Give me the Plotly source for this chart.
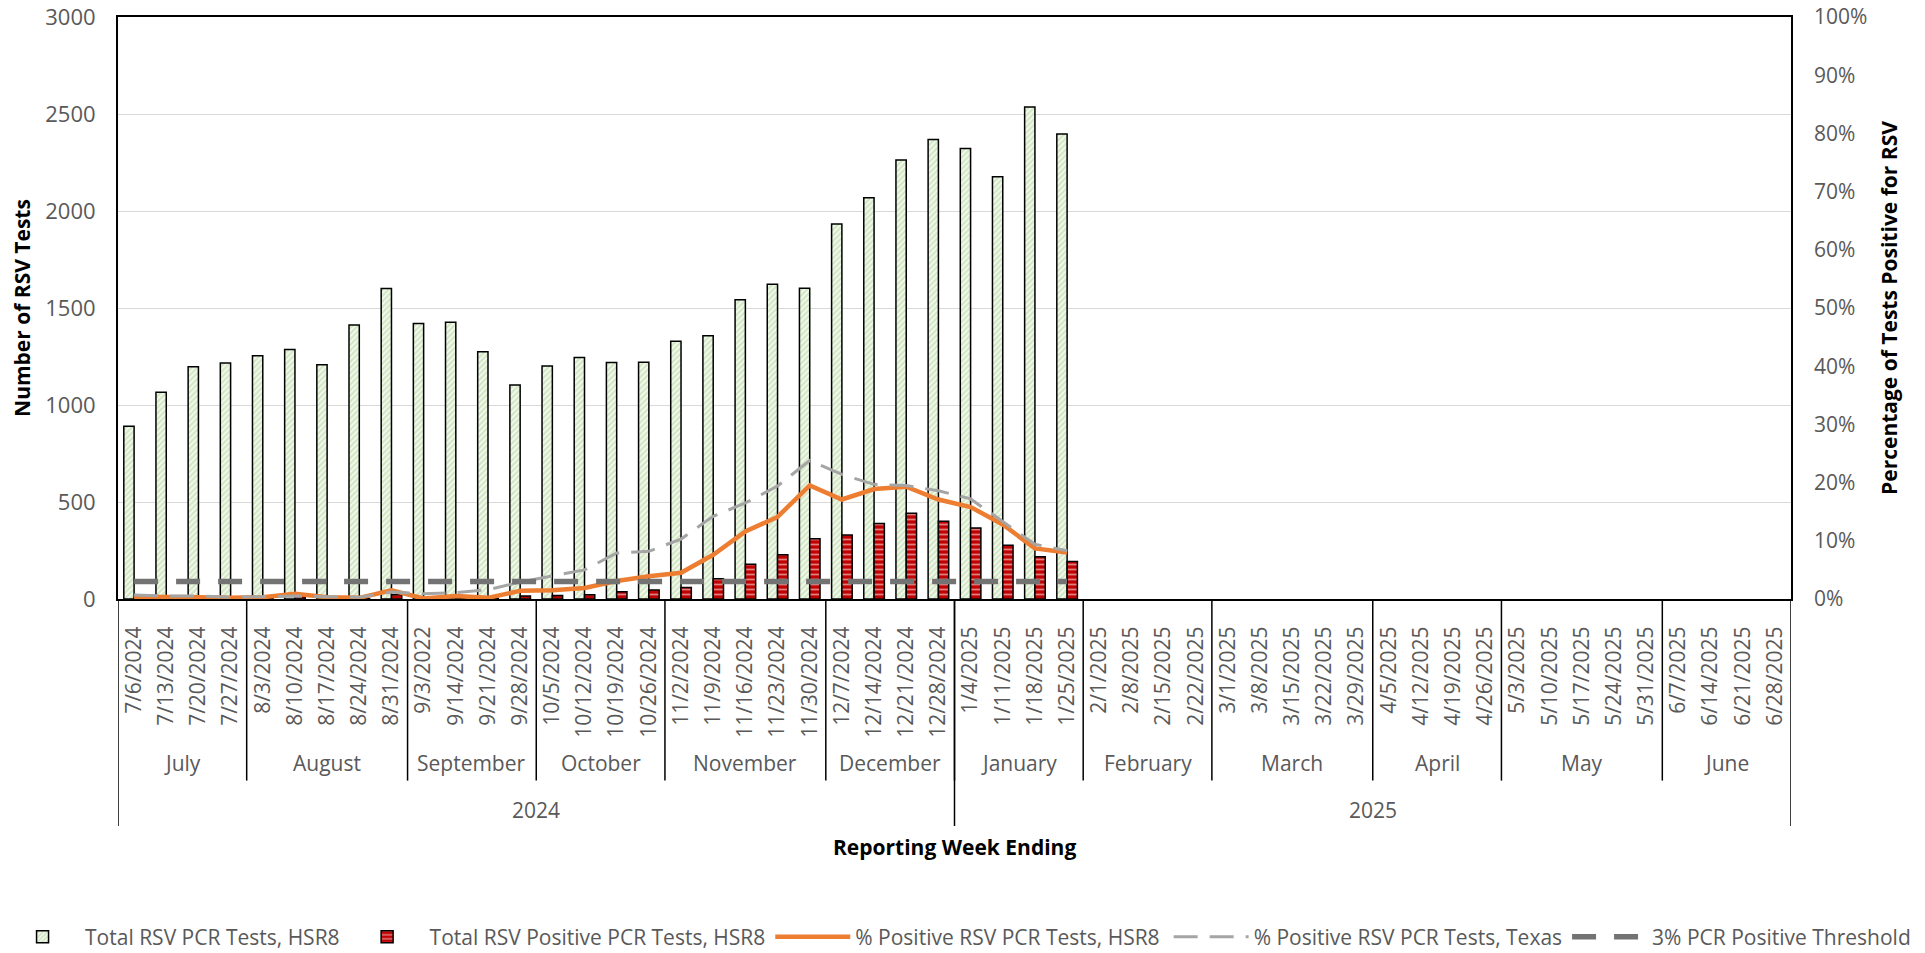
import plotly.graph_objects as go

weeks = ["7/6/2024", "7/13/2024", "7/20/2024", "7/27/2024",
         "8/3/2024", "8/10/2024", "8/17/2024", "8/24/2024", "8/31/2024",
         "9/3/2022", "9/14/2024", "9/21/2024", "9/28/2024",
         "10/5/2024", "10/12/2024", "10/19/2024", "10/26/2024",
         "11/2/2024", "11/9/2024", "11/16/2024", "11/23/2024", "11/30/2024",
         "12/7/2024", "12/14/2024", "12/21/2024", "12/28/2024",
         "1/4/2025", "1/11/2025", "1/18/2025", "1/25/2025",
         "2/1/2025", "2/8/2025", "2/15/2025", "2/22/2025",
         "3/1/2025", "3/8/2025", "3/15/2025", "3/22/2025", "3/29/2025",
         "4/5/2025", "4/12/2025", "4/19/2025", "4/26/2025",
         "5/3/2025", "5/10/2025", "5/17/2025", "5/24/2025", "5/31/2025",
         "6/7/2025", "6/14/2025", "6/21/2025", "6/28/2025"]

months = ["July", "August", "September", "October", "November", "December",
          "January", "February", "March", "April", "May", "June"]
month_counts = [4, 5, 4, 4, 5, 4, 4, 4, 5, 4, 5, 4]
years = ["2024", "2025"]
year_counts = [26, 26]

total_tests = [891, 1066, 1197, 1217, 1254, 1286, 1207, 1412, 1600,
               1420, 1427, 1274, 1103, 1201, 1245, 1219, 1221,
               1329, 1357, 1543, 1622, 1602, 1933, 2068, 2263, 2369,
               2322, 2177, 2536, 2397]
positive_tests = [4, 4, 3, 2, 4, 12, 4, 2, 22,
                  2, 7, 3, 15, 18, 22, 37, 47,
                  59, 104, 179, 228, 311, 330, 389, 442, 401,
                  366, 277, 218, 193]
pct_hsr8 = [0.004, 0.004, 0.003, 0.002, 0.003, 0.009, 0.003, 0.002, 0.015,
            0.001, 0.005, 0.002, 0.014, 0.015, 0.019, 0.031, 0.039,
            0.045, 0.076, 0.116, 0.141, 0.195, 0.171, 0.189, 0.193, 0.171,
            0.158, 0.128, 0.087, 0.080]
pct_texas = [0.007, 0.005, 0.005, 0.003, 0.004, 0.005, 0.004, 0.003, 0.012,
             0.009, 0.011, 0.016, 0.029, 0.040, 0.050, 0.079, 0.082,
             0.103, 0.142, 0.165, 0.194, 0.238, 0.214, 0.197, 0.195, 0.186,
             0.172, 0.133, 0.094, 0.083]
threshold = [0.03, 0.03, 0.03, 0.03, 0.03, 0.03, 0.03, 0.03, 0.03, 0.03,
             0.03, 0.03, 0.03, 0.03, 0.03, 0.03, 0.03, 0.03, 0.03, 0.03,
             0.03, 0.03, 0.03, 0.03, 0.03, 0.03, 0.03, 0.03, 0.03, 0.03]

FONT = "Open Sans"
GRAY = "#595959"
n_data = len(total_tests)

fig = go.Figure()
fig.add_trace(go.Bar(
    x=weeks[:n_data], y=total_tests, name="Total RSV PCR Tests, HSR8",
    marker=dict(color="white",
                pattern=dict(shape="/", fgcolor="#a9d18e", bgcolor="white",
                             size=4, solidity=0.7),
                line=dict(color="black", width=1.5)),
    yaxis="y", legend="legend"))
fig.add_trace(go.Bar(
    x=weeks[:n_data], y=positive_tests, name="Total RSV Positive PCR Tests, HSR8",
    marker=dict(color="#c00000",
                pattern=dict(shape="-", fgcolor="white", bgcolor="#c00000",
                             size=5, solidity=0.35),
                line=dict(color="black", width=1.5)),
    yaxis="y", legend="legend"))
fig.add_trace(go.Scatter(
    x=weeks[:n_data], y=pct_hsr8, name="% Positive RSV PCR Tests, HSR8",
    mode="lines", line=dict(color="#ed7d31", width=4.5), yaxis="y2", legend="legend"))
fig.add_trace(go.Scatter(
    x=weeks[:n_data], y=pct_texas, name="% Positive RSV PCR Tests, Texas",
    mode="lines", line=dict(color="#a5a5a5", width=3, dash="24px,12px"), yaxis="y2",
    legend="legend2"))
fig.add_trace(go.Scatter(
    x=weeks[:n_data], y=threshold, name="3% PCR Positive Threshold",
    mode="lines", line=dict(color="#737373", width=5.5, dash="24px,18px"), yaxis="y2",
    legend="legend2"))

# multi-level category labels and separators
annotations = []
shapes = []
start = 0
for name, cnt in zip(months, month_counts):
    annotations.append(dict(x=start + (cnt - 1) / 2, y=-0.282, xref="x", yref="paper",
                            text=name, showarrow=False, yanchor="middle",
                            font=dict(family=FONT, size=21, color=GRAY)))
    start += cnt
    if start < len(weeks):
        shapes.append(dict(type="line", xref="x", yref="paper", x0=start - 0.5, x1=start - 0.5,
                           y0=0, y1=-0.312, line=dict(color="black", width=1.5)))
start = 0
shapes.append(dict(type="line", xref="x", yref="paper", x0=-0.5, x1=-0.5,
                   y0=0, y1=-0.390, line=dict(color="black", width=1.5)))
for name, cnt in zip(years, year_counts):
    annotations.append(dict(x=start + (cnt - 1) / 2, y=-0.3625, xref="x", yref="paper",
                            text=name, showarrow=False, yanchor="middle",
                            font=dict(family=FONT, size=21, color=GRAY)))
    start += cnt
    shapes.append(dict(type="line", xref="x", yref="paper", x0=start - 0.5, x1=start - 0.5,
                       y0=0, y1=-0.390, line=dict(color="black", width=1.5)))
annotations.append(dict(x=0.5, y=-0.426, xref="paper", yref="paper",
                        text="<b>Reporting Week Ending</b>", showarrow=False, yanchor="middle",
                        font=dict(family=FONT, size=21, color="black")))

legend_common = dict(orientation="h", xanchor="left", xref="paper",
                     y=-0.581, yanchor="middle", yref="paper",
                     font=dict(family=FONT, size=21, color=GRAY),
                     itemwidth=75, traceorder="normal", bgcolor="rgba(0,0,0,0)")

fig.update_layout(
    width=1925, height=953,
    margin=dict(l=118, r=134, t=17, b=354, autoexpand=False),
    paper_bgcolor="white", plot_bgcolor="white",
    font=dict(family=FONT, size=21, color=GRAY),
    barmode="group", bargap=0.36, bargroupgap=0,
    showlegend=True,
    legend=dict(x=-0.0705, **legend_common),
    legend2=dict(x=0.628, **legend_common),
    xaxis=dict(type="category", categoryorder="array", categoryarray=weeks,
               tickmode="array", tickvals=weeks, ticktext=weeks,
               range=[-0.5, len(weeks) - 0.5], tickangle=-90, automargin=False,
               tickfont=dict(family=FONT, size=21, color=GRAY),
               showgrid=False, showline=True, linecolor="black", linewidth=2,
               mirror=True, ticks="", ticklabelstandoff=17, zeroline=False),
    yaxis=dict(range=[0, 3000], dtick=500, tick0=0, automargin=False,
               gridcolor="#d9d9d9", gridwidth=1.2,
               showline=True, linecolor="black", linewidth=2, mirror=True,
               ticks="", ticklabelstandoff=16, zeroline=False,
               tickfont=dict(family=FONT, size=22, color=GRAY),
               title=dict(text="<b>Number of RSV Tests</b>", standoff=9,
                          font=dict(family=FONT, size=21, color="black"))),
    yaxis2=dict(range=[0, 1], dtick=0.1, tick0=0, tickformat=".0%", automargin=False,
                overlaying="y", side="right", showgrid=False, showline=False,
                ticks="", ticklabelstandoff=22, zeroline=False,
                tickfont=dict(family=FONT, size=21, color=GRAY),
                title=dict(text="<b>Percentage of Tests Positive for RSV</b>", standoff=15,
                           font=dict(family=FONT, size=21, color="black"))),
    annotations=annotations,
    shapes=shapes,
)

fig.write_html("out.html", config={"displayModeBar": False},
               post_script="document.body.style.margin='0';")
